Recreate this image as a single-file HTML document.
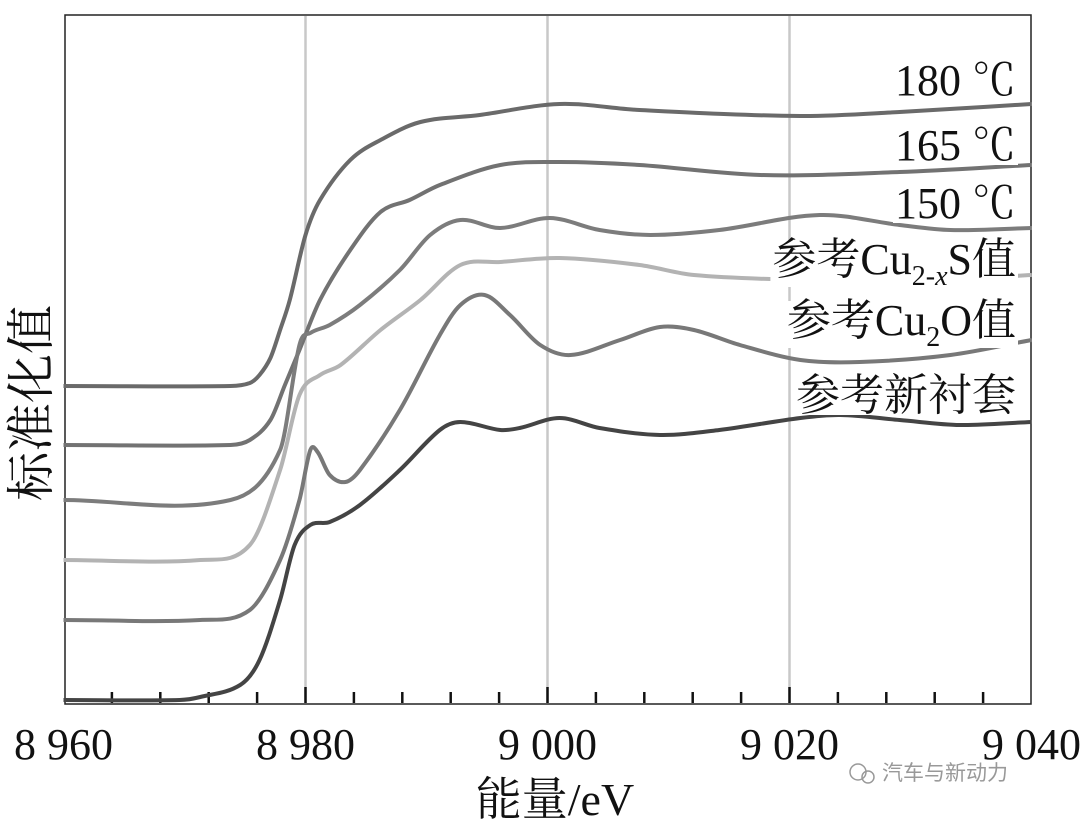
<!DOCTYPE html>
<html><head><meta charset="utf-8">
<style>
body{margin:0;background:#fff;}
svg{display:block;}
text{font-family:"Liberation Serif","Noto Serif CJK SC",serif;fill:#111;}
</style></head>
<body>
<svg id="chart" width="1080" height="823" viewBox="0 0 1080 823">
<rect x="65" y="15" width="966" height="689" fill="#fff" stroke="#222" stroke-width="1.5"/>
<g id="grid"></g>
<g id="ticks"></g>
<g id="series"></g>
<g id="labels"></g>
<text x="555" y="815" font-size="46" text-anchor="middle">能量/eV</text>
<text transform="translate(48,403) rotate(-90)" font-size="49" text-anchor="middle">标准化值</text>
<g>
<circle cx="858" cy="772" r="8" fill="none" stroke="#999" stroke-width="1.5"/>
<circle cx="868" cy="777" r="6" fill="none" stroke="#999" stroke-width="1.5"/>
<text x="882" y="780" font-size="21" fill="#999" style="fill:#999;font-family:'Liberation Sans','Noto Sans CJK SC',sans-serif">汽车与新动力</text>
</g>
</svg>
<script>
const xTicks=[8960,8980,9000,9020,9040];
const xTickLabels=["8 960","8 980","9 000","9 020","9 040"];
const minorTicks=[8964,8968,8972,8976,8980,8984,8988,8992,8996,9000,9004,9008,9012,9016,9020,9024,9028,9032,9036];
const gridLines=[8980,9000,9020];
const seriesNames=["180 ℃","165 ℃","150 ℃","Cu2-xS","Cu2O","新衬套"];
const e180=[8960,8973.8,8975.4,8976.2,8977.1,8977.9,8978.7,8980,8981.2,8983.7,8986.2,8989.5,8994.4,9001.0,9007.6,9020.9,9029.1,9040];
const v180=[3.16,3.16,3.19,3.27,3.44,3.72,4.02,4.67,5.02,5.42,5.62,5.80,5.87,5.98,5.92,5.86,5.90,5.98];
const e165=[8960,8973.8,8975.4,8977.1,8978.3,8979.5,8981.2,8983.7,8986.2,8988.6,8991.1,8996.1,9001.0,9007.6,9017.6,9029.1,9040];
const v165=[2.57,2.57,2.62,2.82,3.17,3.52,4.02,4.52,4.90,5.02,5.17,5.37,5.40,5.37,5.27,5.30,5.37];
const e150=[8960,8973.8,8977.9,8979.5,8980.4,8982.0,8984.5,8987.8,8990.3,8992.8,8996.1,9000.2,9004.3,9008.5,9014.2,9022.5,9029.1,9033.3,9040];
const v150=[2.02,2.02,2.52,3.57,3.69,3.77,3.97,4.32,4.67,4.82,4.74,4.84,4.72,4.67,4.72,4.87,4.77,4.72,4.74];
const eCuS=[8960,8971.3,8975.4,8977.9,8979.5,8981.2,8982.9,8986.2,8989.5,8992.8,8996.1,9001.0,9007.6,9012.1,9020.9,9029.1,9040];
const vCuS=[1.42,1.42,1.57,2.32,3.07,3.27,3.37,3.72,4.02,4.37,4.40,4.44,4.37,4.27,4.22,4.20,4.27];
const eCuO=[8960,8971.3,8975.4,8977.9,8979.5,8980.4,8981.0,8982.0,8983.3,8984.5,8987.8,8991.1,8992.8,8994.8,8996.9,8999.4,9001.9,9006.0,9009.3,9012.1,9015.9,9020.9,9025.8,9033.3,9040];
const vCuO=[0.82,0.82,0.92,1.42,2.02,2.52,2.50,2.27,2.20,2.32,2.92,3.67,3.97,4.07,3.87,3.57,3.47,3.62,3.75,3.72,3.57,3.42,3.40,3.47,3.62];
const eNew=[8960,8969.6,8971.3,8974.6,8976.2,8977.9,8979.1,8980.4,8982.0,8984.5,8987.8,8991.1,8992.8,8996.1,8997.7,9001.0,9004.3,9009.3,9014.2,9020.9,9024.2,9029.1,9034.1,9040];
const vNew=[0.02,0.02,0.05,0.17,0.42,1.02,1.57,1.77,1.80,1.97,2.32,2.72,2.80,2.72,2.74,2.84,2.74,2.67,2.72,2.84,2.87,2.82,2.77,2.80];
const seriesE=[e180,e165,e150,eCuS,eCuO,eNew];
const seriesV=[v180,v165,v150,vCuS,vCuO,vNew];
const colors=["#6a6a6a","#727272","#7c7c7c","#b3b3b3","#787878","#444"];
const labelTexts=[["180 ℃"],["165 ℃"],["150 ℃"],["参考Cu","2-x","S值"],["参考Cu","2","O值"],["参考新衬套"]];
const labelY=[95,160,218,274,335,410];

const NS="http://www.w3.org/2000/svg";
const X=e=>63.5+(e-8960)*12.1;
const Y=v=>702-v*100;
function mk(tag,attrs,parent){const el=document.createElementNS(NS,tag);for(const k in attrs)el.setAttribute(k,attrs[k]);parent.appendChild(el);return el;}
const grid=document.getElementById('grid'),ticks=document.getElementById('ticks'),series=document.getElementById('series'),labels=document.getElementById('labels');
gridLines.forEach(g=>{const l=mk('line',{x1:X(g),x2:X(g),y1:16,y2:703,stroke:'#c8c8c8','stroke-width':2.5},grid);

});
minorTicks.forEach(t=>{const major=gridLines.includes(t);const l=mk('line',{x1:X(t),x2:X(t),y1:major?687:692,y2:703,stroke:'#111','stroke-width':2.5},ticks);

});
xTicks.forEach((t,i)=>{const tx=mk('text',{x:X(t),y:759,'font-size':44,'text-anchor':'middle'},ticks);tx.textContent=xTickLabels[i];

});
function path(es,vs){const p=es.map((e,i)=>[X(e),Y(vs[i])]);const n=p.length;
const m=p.map((q,i)=>{const a=p[Math.max(0,i-1)],b=p[Math.min(n-1,i+1)];return (b[1]-a[1])/(b[0]-a[0]);});
let d=`M${p[0][0]},${p[0][1]}`;
for(let i=0;i<n-1;i++){const p1=p[i],p2=p[i+1],h=(p2[0]-p1[0])/3;
d+=` C${p1[0]+h},${p1[1]+m[i]*h} ${p2[0]-h},${p2[1]-m[i+1]*h} ${p2[0]},${p2[1]}`;}return d;}
seriesE.forEach((es,i)=>{const p=mk('path',{d:path(es,seriesV[i]),fill:'none',stroke:colors[i],'stroke-width':4,'stroke-linejoin':'round'},series);

});
labelTexts.forEach((parts,i)=>{const t=mk('text',{x:1016,y:labelY[i],'font-size':44,'text-anchor':'end'},labels);


parts.forEach((s,j)=>{const ts=mk('tspan',{},t);ts.textContent=s;if(parts.length===3&&j===1){ts.setAttribute('font-size','28');ts.setAttribute('dy','11');if(s==='2-x'){ts.textContent='2-';const it=mk('tspan',{'font-style':'italic'},t);it.textContent='x';it.setAttribute('font-size','28');}}if(parts.length===3&&j===2){ts.setAttribute('dy','-11');}});
const bb=t.getBBox();const r=document.createElementNS(NS,'rect');r.setAttribute('x',bb.x-2);r.setAttribute('y',bb.y+5);r.setAttribute('width',bb.width+4);r.setAttribute('height',bb.height-10);r.setAttribute('fill','#fff');labels.insertBefore(r,t);});
</script>
</body></html>
